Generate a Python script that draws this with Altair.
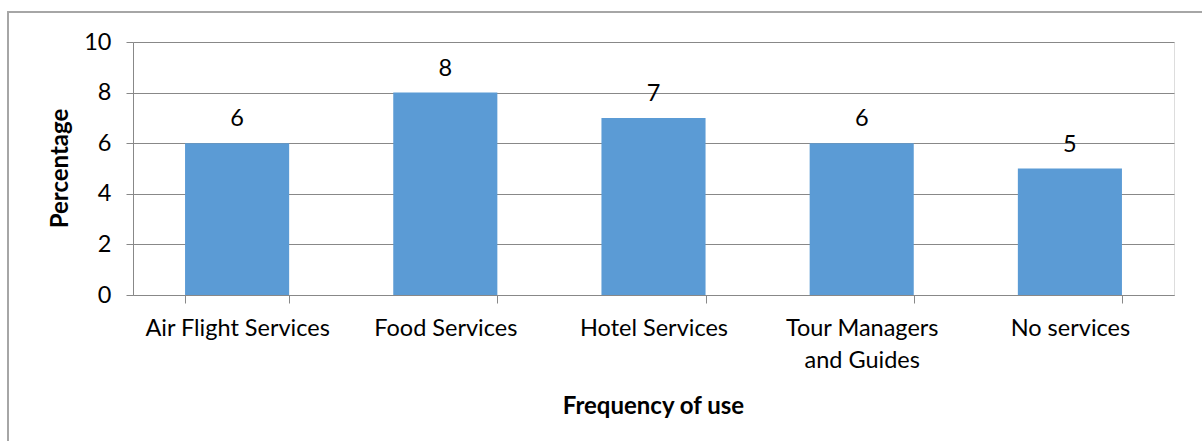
import altair as alt
import pandas as pd

categories = ["Air Flight Services", "Food Services", "Hotel Services",
              "Tour Managers and Guides", "No services"]
values = [6, 8, 7, 6, 5]

df = pd.DataFrame({"category": categories, "value": values})

FONT = "Lato"
GRID = "#888888"
LBL = 23.5
TTL = 24

x_enc = alt.X(
    "category:N", sort=categories,
    scale=alt.Scale(paddingInner=0.5, paddingOuter=0.25),
    axis=alt.Axis(
        title="Frequency of use", titleFont=FONT, titleFontSize=TTL, titleFontWeight="bold",
        titleColor="black", titleX=520, titleY=111, titleBaseline="middle",
        labelFont=FONT, labelFontSize=LBL, labelColor="black", labelAngle=0,
        labelPadding=13, labelLineHeight=32, labelBaseline="top", labelLimit=400,
        labelExpr="datum.label == 'Tour Managers and Guides' ? ['Tour Managers', 'and Guides'] : datum.label",
        tickBand="extent", tickSize=8, tickColor=GRID, domainColor=GRID,
        grid=False,
    ),
)
y_enc = alt.Y(
    "value:Q", scale=alt.Scale(domain=[0, 10]),
    axis=alt.Axis(
        title="Percentage", titleFont=FONT, titleFontSize=TTL, titleFontWeight="bold",
        titleColor="black", titleX=-73, titleY=126, titleAlign="center",
        titleBaseline="middle", titleAngle=-90,
        labelFont=FONT, labelFontSize=LBL, labelColor="black", labelPadding=15,
        values=[0, 2, 4, 6, 8, 10], tickSize=7, tickColor=GRID, domainColor=GRID,
        gridColor=GRID, gridWidth=1,
    ),
)

bars = alt.Chart(df).mark_bar(color="#5B9BD5").encode(x=x_enc, y=y_enc)
labels = alt.Chart(df).mark_text(
    font=FONT, fontSize=LBL, color="black", baseline="alphabetic", dy=-17
).encode(x=alt.X("category:N", sort=categories), y="value:Q", text="value:Q")

border = alt.Chart(df).mark_rect(fill=None, stroke="#a6a6a6", strokeWidth=1.5).encode(
    x=alt.value(-125), x2=alt.value(1090), y=alt.value(-30), y2=alt.value(420)
)

chart = alt.layer(bars, labels, border).properties(
    width=1041, height=253,
    padding={"left": 133, "top": 42, "right": 28, "bottom": 146},
    autosize=alt.AutoSizeParams(type="none"),
).configure_view(stroke=None).configure(background="white")

chart.save("out.html", embed_options={"renderer": "svg", "actions": False})
